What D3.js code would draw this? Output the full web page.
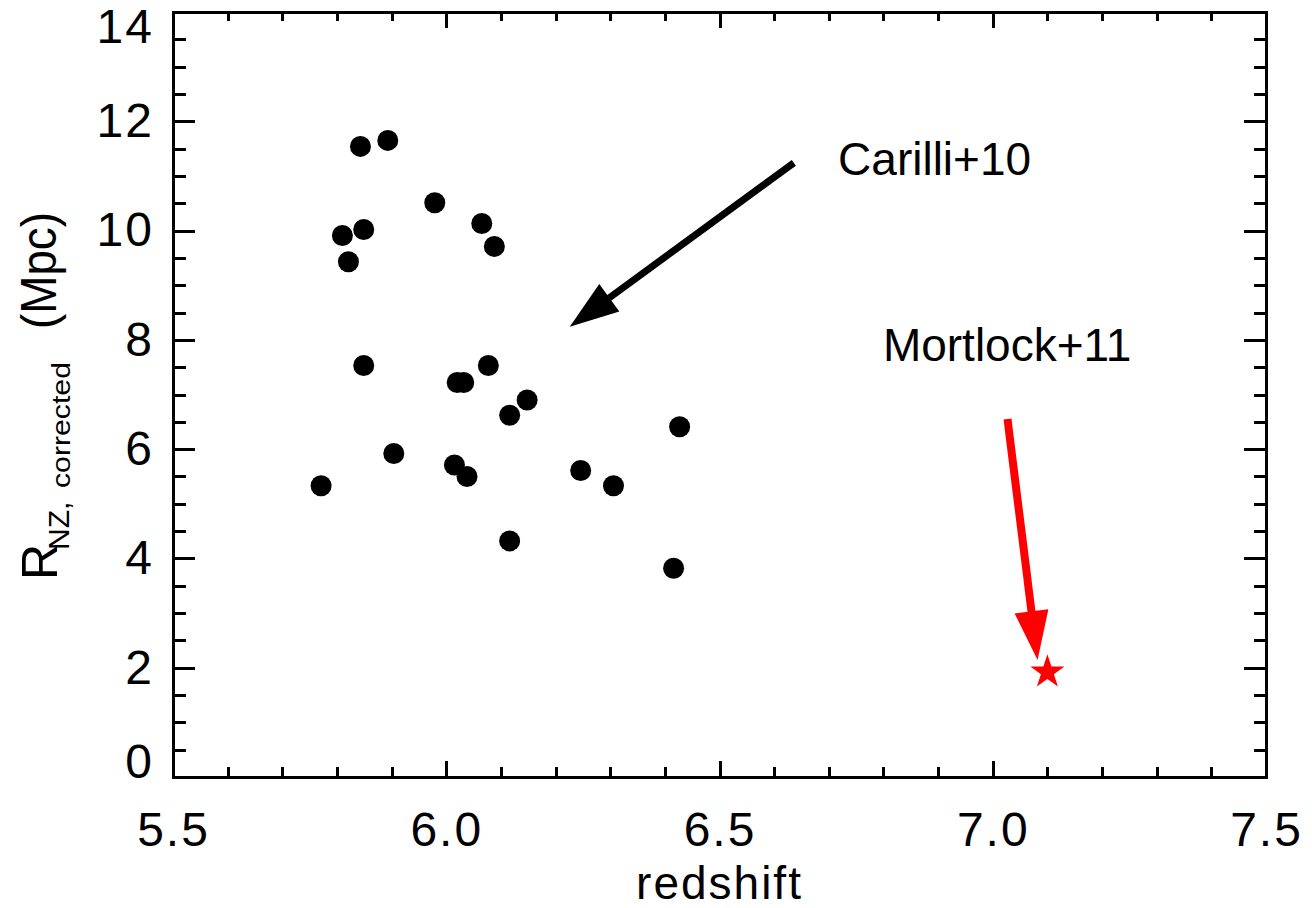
<!DOCTYPE html>
<html>
<head>
<meta charset="utf-8">
<script src="https://cdn.jsdelivr.net/npm/d3@7"></script>
<style>
  html, body { margin: 0; padding: 0; background: #fff; }
  svg { display: block; }
  text { font-family: "Liberation Sans", Arial, Helvetica, sans-serif; fill: #000; }
</style>
</head>
<body>
<svg id="chart" width="1312" height="908"></svg>
<script>
// Carilli+10 quasar sample: redshift and corrected near-zone radius (Mpc)
const carilliZ = [5.771, 5.810, 5.821, 5.843, 5.849, 5.849, 5.893, 5.904, 5.979, 6.015,
                  6.020, 6.032, 6.038, 6.065, 6.077, 6.088, 6.116, 6.116, 6.148, 6.246,
                  6.306, 6.416, 6.427];
const carilliR = [5.33, 9.91, 9.43, 11.54, 10.02, 7.53, 11.65, 5.92, 10.51, 5.71,
                  7.22, 7.22, 5.50, 10.13, 7.53, 9.71, 6.62, 4.32, 6.90, 5.61,
                  5.33, 3.82, 6.41];

// Mortlock+11 quasar
const mortlockZ = [7.10];
const mortlockR = [1.92];

// Axis ranges and ticks
const xDomain = [5.5, 7.5];
const yDomain = [0, 14];
const xMajorTicks = [5.5, 6.0, 6.5, 7.0, 7.5];
const xTickLabels = ["5.5", "6.0", "6.5", "7.0", "7.5"];
const yMajorTicks = [0, 2, 4, 6, 8, 10, 12, 14];
const yTickLabels = ["0", "2", "4", "6", "8", "10", "12", "14"];
const xMinorStep = 0.1;
const yMinorStep = 0.5;

// Annotation arrows (data coordinates: start -> tip) and labels
const arrowNames = ["Carilli+10", "Mortlock+11"];
const arrowStartZ = [6.636, 7.027];
const arrowStartR = [11.24, 6.55];
const arrowTipZ = [6.226, 7.082];
const arrowTipR = [8.24, 2.14];
const arrowColors = ["#000000", "#ff0000"];
const labelZ = [6.717, 6.799];
const labelR = [11.02, 7.61];

const W = 1312, H = 908;
const margin = { left: 173, top: 12, right: 46, bottom: 131 };
const innerW = W - margin.left - margin.right;
const innerH = H - margin.top - margin.bottom;

const svg = d3.select("#chart");
const g = svg.append("g").attr("transform", `translate(${margin.left},${margin.top})`);

const x = d3.scaleLinear().domain(xDomain).range([0, innerW]);
const y = d3.scaleLinear().domain(yDomain).range([innerH, 0]);

const xMinor = d3.range(xDomain[0], xDomain[1] + 1e-9, xMinorStep).map(v => +v.toFixed(2))
  .filter(v => !xMajorTicks.some(m => Math.abs(m - v) < 1e-6));
const yMinor = d3.range(yDomain[0], yDomain[1] + 1e-9, yMinorStep).map(v => +v.toFixed(2))
  .filter(v => !yMajorTicks.some(m => Math.abs(m - v) < 1e-6));

const tickStroke = 3;
function styleAxis(sel) {
  sel.select(".domain").remove();
  sel.selectAll(".tick line").attr("stroke", "#000").attr("stroke-width", tickStroke)
    .attr("shape-rendering", "crispEdges");
  sel.selectAll(".tick text").attr("fill", "#000").style("font-family", "'Liberation Sans', Arial, sans-serif");
}

// Bottom axis: labelled majors + minors, ticks pointing inward
const xLab = d3.scaleOrdinal().domain(xMajorTicks).range(xTickLabels);
g.append("g").attr("transform", `translate(0,${innerH})`)
  .call(d3.axisBottom(x).tickValues(xMajorTicks).tickSize(-16).tickPadding(35).tickFormat(d => xLab(d)))
  .call(styleAxis)
  .call(s => s.selectAll(".tick text").attr("font-size", 48).attr("letter-spacing", 2));
g.append("g").attr("transform", `translate(0,${innerH})`)
  .call(d3.axisBottom(x).tickValues(xMinor).tickSize(-10).tickFormat(""))
  .call(styleAxis);

// Top axis: unlabelled
g.append("g")
  .call(d3.axisTop(x).tickValues(xMajorTicks).tickSize(-16).tickFormat(""))
  .call(styleAxis);
g.append("g")
  .call(d3.axisTop(x).tickValues(xMinor).tickSize(-9).tickFormat(""))
  .call(styleAxis);

// Left axis: labelled
const yLab = d3.scaleOrdinal().domain(yMajorTicks).range(yTickLabels);
g.append("g")
  .call(d3.axisLeft(y).tickValues(yMajorTicks).tickSize(-22).tickPadding(19).tickFormat(d => yLab(d)))
  .call(styleAxis)
  .call(s => s.selectAll(".tick text").attr("font-size", 48).attr("letter-spacing", 2)
    // end labels sit slightly inside the frame
    .attr("transform", d => d === yDomain[1] ? "translate(0,15)" : d === yDomain[0] ? "translate(0,-15)" : null));
g.append("g")
  .call(d3.axisLeft(y).tickValues(yMinor).tickSize(-13).tickFormat(""))
  .call(styleAxis);

// Right axis: unlabelled
g.append("g").attr("transform", `translate(${innerW},0)`)
  .call(d3.axisRight(y).tickValues(yMajorTicks).tickSize(-22).tickFormat(""))
  .call(styleAxis);
g.append("g").attr("transform", `translate(${innerW},0)`)
  .call(d3.axisRight(y).tickValues(yMinor).tickSize(-12).tickFormat(""))
  .call(styleAxis);

// Plot frame
g.append("rect").attr("x", 0).attr("y", 0).attr("width", innerW).attr("height", innerH)
  .attr("fill", "none").attr("stroke", "#000").attr("stroke-width", tickStroke)
  .attr("shape-rendering", "crispEdges");

// X axis title
g.append("text").attr("x", innerW / 2).attr("y", innerH + 122)
  .attr("text-anchor", "middle").attr("font-size", 46).attr("letter-spacing", 2)
  .text("redshift");

// Y axis title: R with subscript "NZ, corrected", then (Mpc)
const yTitle = svg.append("g");
const yTitleParts = [
  { text: "R", size: 50, bx: 57, by: 580, len: null },
  { text: "NZ,", size: 30, bx: 69, by: 550, len: null },
  { text: "corrected", size: 26, bx: 70, by: 488, len: 126 },
  { text: "(Mpc)", size: 50, bx: 56, by: 329, len: 117 }
];
yTitleParts.forEach(p => {
  const t = yTitle.append("text")
    .attr("transform", `translate(${p.bx},${p.by}) rotate(-90)`)
    .attr("font-size", p.size)
    .attr("text-anchor", "start")
    .text(p.text);
  if (p.len) t.attr("textLength", p.len).attr("lengthAdjust", "spacingAndGlyphs");
});

// Carilli+10 points
const carilli = carilliZ.map((z, i) => ({ z, r: carilliR[i] }));
g.append("g").selectAll("circle").data(carilli).join("circle")
  .attr("cx", d => x(d.z)).attr("cy", d => y(d.r)).attr("r", 10.5)
  .attr("fill", "#000");

// Mortlock+11 star
const mortlock = mortlockZ.map((z, i) => ({ z, r: mortlockR[i] }));
const starPath = d3.symbol().type(d3.symbolStar).size(360);
g.append("g").selectAll("path").data(mortlock).join("path")
  .attr("d", starPath)
  .attr("transform", d => `translate(${x(d.z)},${y(d.r)})`)
  .attr("fill", "#ff0000");

// Annotation arrows
function drawArrow(x0, y0, x1, y1, color, headLen, headHalfW, shaftW) {
  const dx = x1 - x0, dy = y1 - y0;
  const L = Math.hypot(dx, dy);
  const ux = dx / L, uy = dy / L;
  const bx = x1 - ux * headLen, by = y1 - uy * headLen;
  const px = -uy, py = ux;
  g.append("line").attr("x1", x0).attr("y1", y0).attr("x2", bx + ux * 2).attr("y2", by + uy * 2)
    .attr("stroke", color).attr("stroke-width", shaftW);
  g.append("path")
    .attr("d", `M${x1},${y1}L${bx + px * headHalfW},${by + py * headHalfW}L${bx - px * headHalfW},${by - py * headHalfW}Z`)
    .attr("fill", color);
}
arrowNames.forEach((name, i) => {
  drawArrow(x(arrowStartZ[i]), y(arrowStartR[i]), x(arrowTipZ[i]), y(arrowTipR[i]),
    arrowColors[i], 49, 17, i === 0 ? 7 : 8);
  g.append("text").attr("x", x(labelZ[i])).attr("y", y(labelR[i]))
    .attr("font-size", 46).attr("fill", "#000").text(name);
});
</script>
</body>
</html>
